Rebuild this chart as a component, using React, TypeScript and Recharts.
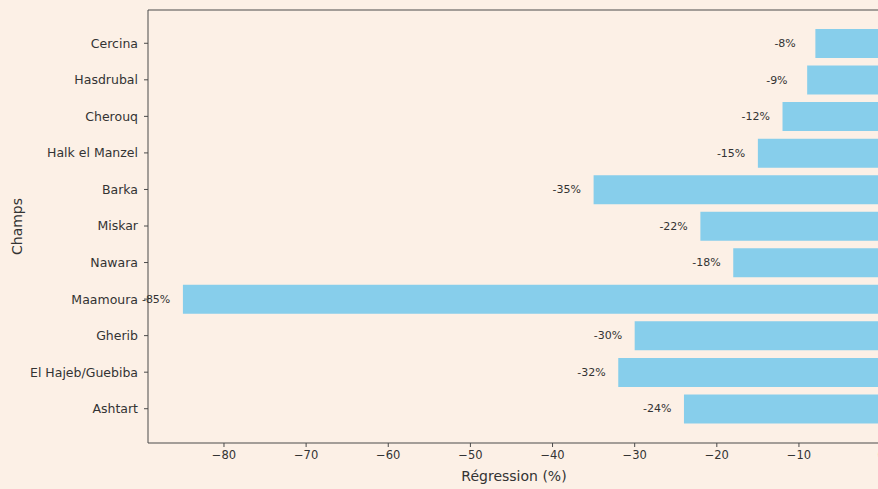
import React from "react";
import {
  BarChart,
  Bar,
  XAxis,
  YAxis,
  LabelList,
  Label,
} from "recharts";

// Champs pétroliers et leur régression (%)
const champs = [
  "Cercina",
  "Hasdrubal",
  "Cherouq",
  "Halk el Manzel",
  "Barka",
  "Miskar",
  "Nawara",
  "Maamoura",
  "Gherib",
  "El Hajeb/Guebiba",
  "Ashtart",
];
const regression = [-8, -9, -12, -15, -35, -22, -18, -85, -30, -32, -24];
const xTicks = [-80, -70, -60, -50, -40, -30, -20, -10, 0];

const BG = "#fcf0e6";
const AXIS = "#4a4a4a";
const TEXT = "#333333";

const data = champs.map((name, i) => ({ name, value: regression[i] }));

// étiquette placée à gauche de la barre, alignée à gauche
const ValueLabel = (props: any) => {
  const { x, y, width, height, value } = props;
  const left = Math.min(Number(x), Number(x) + Number(width));
  return (
    <text
      x={left - 41}
      y={Number(y) + Number(height) / 2}
      fill={TEXT}
      fontSize={11}
      textAnchor="start"
      dominantBaseline="central"
    >
      {`${value}%`}
    </text>
  );
};

const App = () => {
  return (
    <div
      style={{
        position: "absolute",
        left: 0,
        top: 0,
        width: 878,
        height: 489,
        overflow: "hidden",
        background: BG,
        fontFamily: "'DejaVu Sans', sans-serif",
      }}
    >
      <BarChart
        width={926}
        height={489}
        data={data}
        layout="vertical"
        margin={{ top: 9, right: 10, left: 0, bottom: 0 }}
        barSize={29}
      >
        <XAxis
          type="number"
          domain={[-89.25, 4.25]}
          ticks={xTicks}
          allowDataOverflow
          height={46}
          tickSize={4}
          tickMargin={4}
          stroke={AXIS}
          tick={{ fill: TEXT, fontSize: 11.5 }}
          tickFormatter={(v: number) => String(v).replace("-", "\u2212")}
        >
          <Label
            value="Régression (%)"
            position="insideBottom"
            offset={8}
            dx={-18}
            fill={TEXT}
            fontSize={14}
          />
        </XAxis>
        <XAxis
          xAxisId="top"
          orientation="top"
          type="number"
          domain={[-89.25, 4.25]}
          height={1}
          tick={false}
          tickLine={false}
          axisLine={{ stroke: AXIS }}
        />
        <YAxis
          type="category"
          dataKey="name"
          width={148}
          tickSize={4}
          tickMargin={6}
          stroke={AXIS}
          interval={0}
          padding={{ top: 15, bottom: 16 }}
          tick={{ fill: TEXT, fontSize: 12.5 }}
        >
          <Label
            value="Champs"
            angle={-90}
            position="insideLeft"
            offset={17}
            fill={TEXT}
            fontSize={14}
            style={{ textAnchor: "middle" }}
          />
        </YAxis>
        <Bar dataKey="value" fill="#87ceeb" isAnimationActive={false}>
          <LabelList dataKey="value" content={ValueLabel} />
        </Bar>
      </BarChart>
    </div>
  );
};

export default App;
